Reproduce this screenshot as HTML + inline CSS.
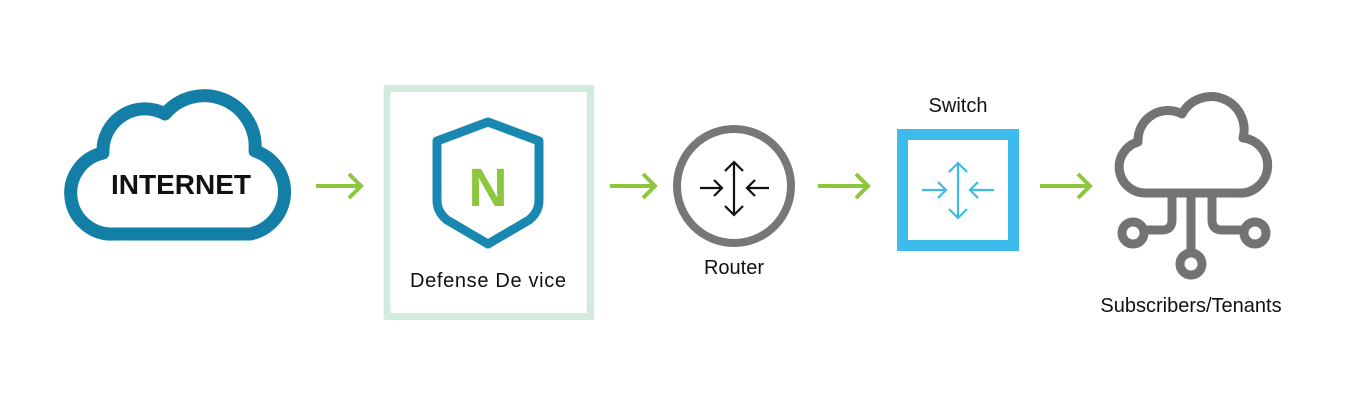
<!DOCTYPE html>
<html><head><meta charset="utf-8"><style>
html,body{margin:0;padding:0;background:#fff;}
svg{display:block;}
text{font-family:"Liberation Sans",sans-serif;}
</style></head><body>
<svg width="1353" height="406" viewBox="0 0 1353 406" xmlns="http://www.w3.org/2000/svg">
<rect width="1353" height="406" fill="#fff"/>
<!-- Internet cloud -->
<path d="M114,234 H250 A43,43 0 0 0 255,151 A51,51 0 0 0 165,114 A42,42 0 0 0 103,153 A41,41 0 0 0 114,234 Z" fill="none" stroke="#137fa6" stroke-width="13" stroke-linejoin="round"/>
<text x="181" y="194" font-size="28" font-weight="bold" text-anchor="middle" fill="#111">INTERNET</text>
<!-- arrows -->
<g stroke="#8dc63f" stroke-width="4" fill="none">
<path d="M316,186 H361 M349,174 L361,186 L349,198"/>
<path d="M610,186 H655 M643,174 L655,186 L643,198"/>
<path d="M818,186 H868 M856,174 L868,186 L856,198"/>
<path d="M1040,186 H1090 M1078,174 L1090,186 L1078,198"/>
</g>
<!-- Defense box -->
<rect x="387" y="88.5" width="203.5" height="228" fill="none" stroke="#d3ebdc" stroke-width="7"/>
<path d="M488,122 L539,141 V200 Q539,212 529,220 L488,244 L447,220 Q437,212 437,200 V141 Z" fill="none" stroke="#1888b0" stroke-width="9" stroke-linejoin="round"/>
<text x="488" y="206" font-size="54" font-weight="bold" text-anchor="middle" fill="#8dc63f">N</text>
<text x="488" y="287" font-size="20" text-anchor="middle" fill="#111" textLength="156">Defense De vice</text>
<!-- Router -->
<circle cx="734" cy="186" r="57" fill="none" stroke="#777" stroke-width="8"/>
<g stroke="#111" stroke-width="2.2" fill="none">
<path d="M734,162 V215 M725,171 L734,162 L743,171 M725,206 L734,215 L743,206"/>
<path d="M700,188 H722 M714,180 L722,188 L714,196"/>
<path d="M769,188 H747 M755,180 L747,188 L755,196"/>
</g>
<text x="734" y="274" font-size="20" text-anchor="middle" fill="#111">Router</text>
<!-- Switch -->
<rect x="902.5" y="134.5" width="111" height="111" fill="none" stroke="#3dbbea" stroke-width="11"/>
<g stroke="#3dbbea" stroke-width="2.2" fill="none">
<path d="M958,163 V218 M949,172 L958,163 L967,172 M949,209 L958,218 L967,209"/>
<path d="M922,190 H946 M938,182 L946,190 L938,198"/>
<path d="M994,190 H970 M978,182 L970,190 L978,198"/>
</g>
<text x="958" y="112" font-size="20" text-anchor="middle" fill="#111">Switch</text>
<!-- Subscribers cloud -->
<g stroke="#737373" stroke-width="9" fill="none" stroke-linejoin="round">
<path d="M1145,193 H1237 A27,27 0 0 0 1243,138 A33,33 0 0 0 1182,114 A30,30 0 0 0 1138,142 A26,26 0 0 0 1145,193 Z"/>
<path d="M1172,193 V220 Q1172,230 1162,230 H1144"/>
<path d="M1191,193 V252"/>
<path d="M1212,193 V220 Q1212,230 1222,230 H1244"/>
<circle cx="1133" cy="233" r="11"/>
<circle cx="1191" cy="264" r="11"/>
<circle cx="1255" cy="233" r="11"/>
</g>
<text x="1191" y="312" font-size="20" text-anchor="middle" fill="#111">Subscribers/Tenants</text>
</svg>
</body></html>
